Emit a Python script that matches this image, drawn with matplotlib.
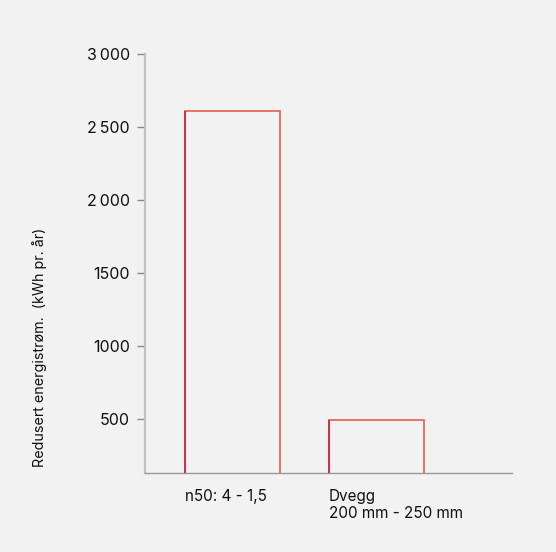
import matplotlib
matplotlib.use("Agg")
import matplotlib.pyplot as plt

categories = ["n50: 4 - 1,5", "Dvegg\n200 mm - 250 mm"]
values = [2610, 495]
yticks = [500, 1000, 1500, 2000, 2500, 3000]
ytick_labels = ["500", "1000", "1500", "2\u2009000", "2\u2009500", "3\u2009000"]
ylabel = "Redusert energistrøm.  (kWh pr. år)"

plt.rcParams['font.family'] = ['Inter', 'DejaVu Sans']
bg = "#f2f2f2"
fig = plt.figure(figsize=(5.56, 5.52), dpi=100, facecolor=bg)
W, H = 556, 552
ax = fig.add_axes([145 / W, 1 - 473.3 / H, (512 - 145) / W, (473.3 - 54.3) / H])
ax.set_facecolor(bg)

x = list(range(len(categories)))
bars = ax.bar(x, values, width=0.66, facecolor="none", edgecolor="#e8675f", linewidth=1.3)
# darker left edges
for b in bars:
    ax.plot([b.get_x(), b.get_x()], [0, b.get_height()],
            color="#c8283a", lw=1.2, solid_capstyle="butt", zorder=3)

ax.set_xlim(-0.608, 1.94)
ax.set_ylim(130, 3000)
ax.set_yticks(yticks)
ax.set_yticklabels(ytick_labels, fontsize=11.5, color="#111111")
ax.tick_params(axis="y", length=6, width=1, color="#888888", pad=5)

ax.set_xticks([b.get_x() for b in bars])
ax.set_xticklabels(categories, fontsize=11, color="#111111", ha="left", va="top",
                   linespacing=1.2)
ax.tick_params(axis="x", length=0, pad=11)

for s in ["top", "right"]:
    ax.spines[s].set_visible(False)
ax.spines["left"].set_color("#c0c0c0")
ax.spines["left"].set_linewidth(1.6)
ax.spines["bottom"].set_color("#999999")
ax.spines["bottom"].set_linewidth(1.0)

fig.text(40 / W, 1 - 347 / H, ylabel, rotation=90, ha="center", va="center",
         fontsize=10.3, color="#111111")

fig.savefig("out.png", dpi=100, facecolor=bg)
